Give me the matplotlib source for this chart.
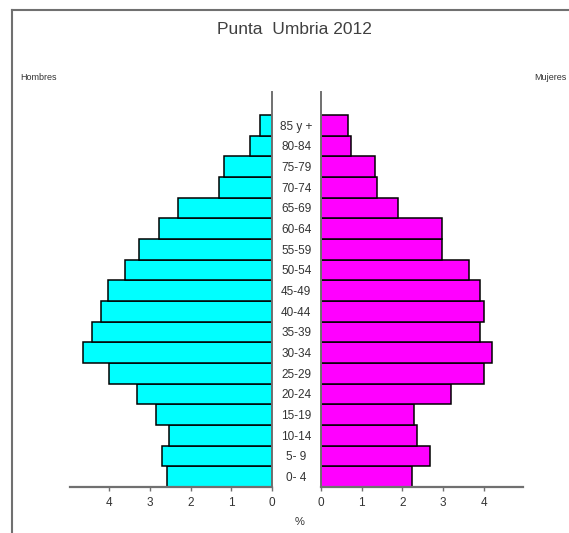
import numpy as np
import matplotlib
matplotlib.use("Agg")
import matplotlib.pyplot as plt
from matplotlib.lines import Line2D

plt.rcParams['font.family'] = ['Liberation Sans Narrow', 'Liberation Sans', 'DejaVu Sans']

# age groups, bottom to top
ages = ["0- 4", "5- 9", "10-14", "15-19", "20-24", "25-29", "30-34", "35-39", "40-44",
        "45-49", "50-54", "55-59", "60-64", "65-69", "70-74", "75-79", "80-84", "85 y +"]
hombres = [2.57, 2.71, 2.53, 2.85, 3.32, 4.00, 4.65, 4.43, 4.20,
           4.02, 3.62, 3.27, 2.77, 2.32, 1.29, 1.18, 0.54, 0.29]
mujeres = [2.24, 2.68, 2.37, 2.28, 3.19, 4.01, 4.21, 3.91, 4.01,
           3.91, 3.65, 2.97, 2.97, 1.90, 1.39, 1.32, 0.75, 0.66]
xticks = [0, 1, 2, 3, 4]

W, H = 569, 533
fig = plt.figure(figsize=(W / 100, H / 100), dpi=100)

def rect(x0, y0, x1, y1):
    return [x0 / W, 1 - y1 / H, (x1 - x0) / W, (y1 - y0) / H]

axl = fig.add_axes(rect(70, 92, 272, 487))
axr = fig.add_axes(rect(321, 92, 523, 487))

y = np.arange(len(ages))
axl.barh(y, hombres, height=1.0, color="#00FFFF", edgecolor="black", linewidth=1.1)
axr.barh(y, mujeres, height=1.0, color="#FF00FF", edgecolor="black", linewidth=1.1)

axl.set_xlim(4.96, 0)
axr.set_xlim(0, 4.97)
for ax in (axl, axr):
    ax.set_ylim(-0.5, 18.61)
    ax.set_xticks(xticks)
    ax.set_xticklabels([str(t) for t in xticks])
    ax.tick_params(axis="x", direction="out", length=3, width=1, color="#707070",
                   labelsize=8.5, labelcolor="#333333", pad=4)
    ax.spines["top"].set_visible(False)
    ax.spines["bottom"].set_color("#707070")
    ax.spines["bottom"].set_linewidth(1.6)

axl.spines["left"].set_visible(False)
axl.spines["right"].set_color("#707070")
axl.spines["right"].set_linewidth(1.4)
axr.spines["right"].set_visible(False)
axr.spines["left"].set_color("#707070")
axr.spines["left"].set_linewidth(1.4)

axr.set_yticks([])
axl.yaxis.tick_right()
axl.set_yticks(y)
axl.set_yticklabels(ages)
axl.tick_params(axis="y", length=0, pad=17.5, labelsize=8.5, labelcolor="#333333")
for lab in axl.get_yticklabels():
    lab.set_horizontalalignment("center")

fig.text(294 / W, 1 - 29 / H, "Punta  Umbria 2012", ha="center", va="center",
         fontsize=12.5, color="#404040")
fig.text(20 / W, 1 - 78 / H, "Hombres", ha="left", va="center", fontsize=6.5, color="#333333")
fig.text(534 / W, 1 - 78 / H, "Mujeres", ha="left", va="center", fontsize=6.5, color="#333333")
fig.text(300 / W, 1 - 522 / H, "%", ha="center", va="center", fontsize=8, color="#333333")

# frame lines at top and left
fig.add_artist(Line2D([12 / W, 1], [1 - 10 / H, 1 - 10 / H], color="#707070", lw=1.5))
fig.add_artist(Line2D([12 / W, 12 / W], [1 - 10 / H, 0], color="#707070", lw=1.5))

fig.savefig("out.png", dpi=100)
